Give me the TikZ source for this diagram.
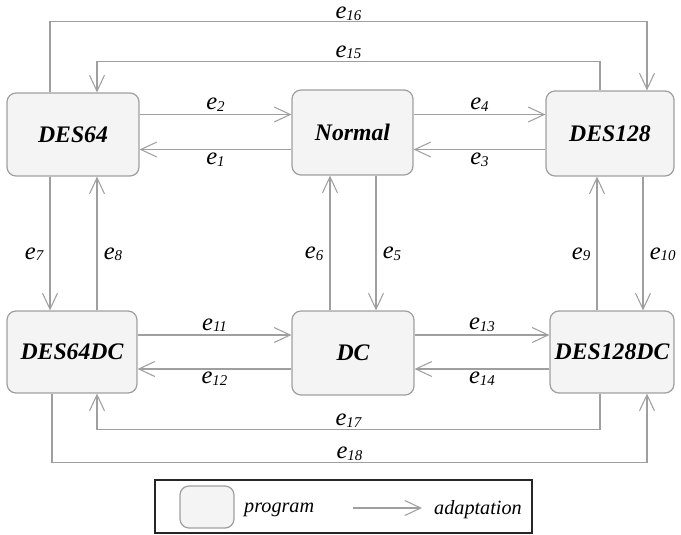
\documentclass[tikz,border=0pt]{standalone}
\usepackage{fontspec}
\setmainfont{Liberation Serif}[BoldItalicFont={Liberation Serif Bold Italic}, ItalicFont={Liberation Serif Italic}]
\usetikzlibrary{arrows.meta}

\tikzset{
  prog/.style={draw=gray!75, fill=gray!9, rounded corners=.18cm, line width=.7pt,
    minimum height=1.66cm, inner sep=0pt, font=\rmfamily\fontsize{13.5}{16}\selectfont\bfseries\itshape},
  adapt/.style={draw=gray!75, line width=.7pt,
    -{Straight Barb[length=.32cm,width=.3cm,line width=.6pt]}},
  elab/.style={font=\rmfamily\fontsize{14}{15}\selectfont\itshape, inner sep=1.5pt}
}
\newcommand{\ee}[1]{e\raisebox{-.15ex}{\fontsize{8.5}{9}\selectfont #1}}

\begin{document}
\begin{tikzpicture}[x=.02cm, y=-.02cm]
  \useasboundingbox (0,0) rectangle (681,535);

  % programs
  \node[prog, minimum width=2.64cm] (des64) at (73,134.5) {DES64};
  \node[prog, minimum width=2.42cm, minimum height=1.7cm] (normal) at (352.5,132.5) {Normal};
  \node[prog, minimum width=2.56cm, minimum height=1.7cm] (des128) at (610,133.5) {DES128};
  \node[prog, minimum width=2.6cm, minimum height=1.64cm] (des64dc) at (72,352) {DES64DC};
  \node[prog, minimum width=2.44cm, minimum height=1.68cm] (dc) at (353,353) {DC};
  \node[prog, minimum width=2.48cm, minimum height=1.64cm] (des128dc) at (612,352) {DES128DC};

  % horizontal adaptations
  \draw[adapt] ([yshift=.4cm]des64.east) -- ([yshift=.4cm]des64.east -| normal.west)
    node[elab, midway, above] {\ee{2}};
  \draw[adapt] ([yshift=-.3cm]des64.east -| normal.west) -- ([yshift=-.3cm]des64.east)
    node[elab, midway, below] {\ee{1}};
  \draw[adapt] ([yshift=.4cm]des64.east -| normal.east) -- ([yshift=.4cm]des64.east -| des128.west)
    node[elab, midway, above] {\ee{4}};
  \draw[adapt] ([yshift=-.3cm]des64.east -| des128.west) -- ([yshift=-.3cm]des64.east -| normal.east)
    node[elab, midway, below] {\ee{3}};

  \draw[adapt] ([yshift=.34cm]des64dc.east) -- ([yshift=.34cm]des64dc.east -| dc.west)
    node[elab, midway, above] {\ee{11}};
  \draw[adapt] ([yshift=-.34cm]des64dc.east -| dc.west) -- ([yshift=-.34cm]des64dc.east)
    node[elab, midway, below] {\ee{12}};
  \draw[adapt] ([yshift=.34cm]des64dc.east -| dc.east) -- ([yshift=.34cm]des64dc.east -| des128dc.west)
    node[elab, midway, above] {\ee{13}};
  \draw[adapt] ([yshift=-.34cm]des64dc.east -| des128dc.west) -- ([yshift=-.34cm]des64dc.east -| dc.east)
    node[elab, midway, below] {\ee{14}};

  % vertical adaptations
  \draw[adapt] ([xshift=-.46cm]des64.south) -- ([xshift=-.46cm]des64.south |- des64dc.north)
    node[elab, pos=.58, left=2pt] {\ee{7}};
  \draw[adapt] ([xshift=.5cm]des64dc.north) -- ([xshift=.5cm]des64dc.north |- des64.south)
    node[elab, pos=.42, right=2pt] {\ee{8}};
  \draw[adapt] ([xshift=.47cm]normal.south) -- ([xshift=.47cm]normal.south |- dc.north)
    node[elab, pos=.58, right=2pt] {\ee{5}};
  \draw[adapt] ([xshift=-.46cm]dc.north) -- ([xshift=-.46cm]dc.north |- normal.south)
    node[elab, pos=.42, left=2pt] {\ee{6}};
  \draw[adapt] ([xshift=-.3cm]des128dc.north) -- ([xshift=-.3cm]des128dc.north |- des128.south)
    node[elab, pos=.42, left=2pt] {\ee{9}};
  \draw[adapt] ([xshift=.66cm]des128.south) -- ([xshift=.66cm]des128.south |- des128dc.north)
    node[elab, pos=.58, right=2pt] {\ee{10}};

  % long way round
  \draw[adapt] ([xshift=-.46cm]des64.north) -- ++(0,-71) -| ([xshift=.74cm]des128.north)
    node[elab, pos=.25, above, inner sep=.3pt] {\ee{16}};
  \draw[adapt] ([xshift=-.2cm]des128.north) -- ++(0,-29) -| ([xshift=.48cm]des64.north)
    node[elab, pos=.25, above, inner sep=1pt] {\ee{15}};
  \draw[adapt] ([xshift=-.24cm]des128dc.south) -- ++(0,36) -| ([xshift=.5cm]des64dc.south)
    node[elab, pos=.25, above, inner sep=1pt] {\ee{17}};
  \draw[adapt] ([xshift=-.4cm]des64dc.south) -- ++(0,69) -| ([xshift=.7cm]des128dc.south)
    node[elab, pos=.25, above, inner sep=1pt] {\ee{18}};

  % legend
  \draw[line width=.8pt, black!85] (155,480) rectangle (532,533);
  \node[prog, minimum width=1.08cm, minimum height=.84cm] (key) at (207,507) {};
  \node[anchor=west, font=\rmfamily\fontsize{11.5}{14}\selectfont\itshape] (keytxt) at (238,510) {program};
  \coordinate (la) at (353,508);
  \coordinate (lb) at (422,508);
  \draw[adapt] (la) -- (lb);
  \node[anchor=west, font=\rmfamily\fontsize{11.5}{14}\selectfont\itshape] (adtxt) at (428,510) {adaptation};
\end{tikzpicture}
\end{document}
